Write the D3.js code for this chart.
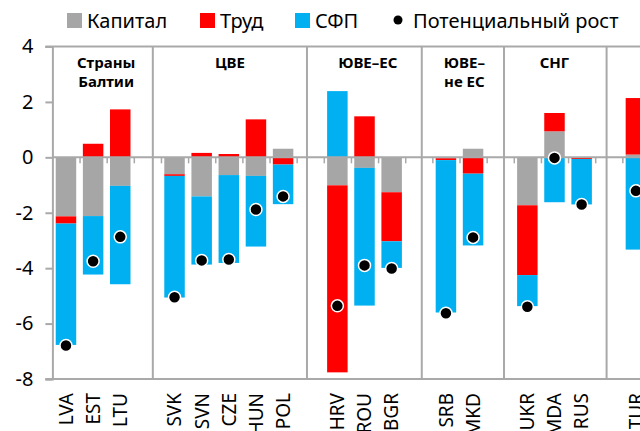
<!DOCTYPE html>
<html>
<head>
<meta charset="utf-8">
<script src="https://cdn.jsdelivr.net/npm/d3@7"></script>
<style>
  body { margin: 0; background: #fff; }
  svg { display: block; font-family: "Noto Sans", "Open Sans", sans-serif; }
</style>
</head>
<body>
<svg id="chart" width="640" height="431"></svg>
<script>
// slots along the x axis ('' = empty gap between groups)
const slots = ['LVA', 'EST', 'LTU', '', 'SVK', 'SVN', 'CZE', 'HUN', 'POL', '',
    'HRV', 'ROU', 'BGR', '', 'SRB', 'MKD', '', 'UKR', 'MDA', 'RUS', '', 'TUR', ''];

const capital = [-2.13, -2.12, -1.03, null, -0.61, -1.41, -0.64, -0.67, 0.31, null,
    -1.01, -0.38, -1.26, null, -0.03, 0.31, null, -1.73, 0.94, -0.02, null, 0.10, null];
const labour = [-0.26, 0.49, 1.73, null, -0.06, 0.16, 0.12, 1.37, -0.26, null,
    -6.75, 1.48, -1.77, null, -0.07, -0.59, null, -2.52, 0.66, -0.04, null, 2.04, null];
const tfp = [-4.38, -2.11, -3.55, null, -4.39, -2.46, -3.17, -2.55, -1.43, null,
    2.39, -4.97, -0.96, null, -5.50, -2.59, null, -1.12, -1.62, -1.64, null, -3.33, null];
const potential = [-6.79, -3.75, -2.87, null, -5.05, -3.72, -3.69, -1.88, -1.41, null,
    -5.36, -3.90, -4.01, null, -5.63, -2.89, null, -5.39, -0.02, -1.70, null, -1.21, null];

const seriesNames = ['Капитал', 'Труд', 'СФП'];
const seriesColors = ['#A6A6A6', '#FF0000', '#00B0F0'];
const dotName = 'Потенциальный рост';

const yTicks = [-8, -6, -4, -2, 0, 2, 4];

// group dividers and titles, in slot units
const dividers = [3.7, 9.38, 13.61, 16.64, 20.42];
const groups = [
    { lines: ['Страны', 'Балтии'], at: 1.98 },
    { lines: ['ЦВЕ'], at: 6.54 },
    { lines: ['ЮВЕ–ЕС'], at: 11.62 },
    { lines: ['ЮВЕ–', 'не ЕС'], at: 15.18 },
    { lines: ['СНГ'], at: 18.5 }
];

const svg = d3.select('#chart');
const axisColor = '#A9A9A9';

const x0 = 52.4, step = 27.14;
const keys = slots.map((s, i) => 'k' + i);
const xSlot = d3.scaleLinear().domain([0, slots.length]).range([x0, x0 + step * slots.length]);
const x = d3.scaleBand().domain(keys).range(xSlot.range())
    .paddingInner(0.245).paddingOuter(0.1225);
const y = d3.scaleLinear().domain([-8, 4]).range([379, 46.5]);

// stacked data
const rows = keys.map((k, i) => ({ key: k, 0: capital[i] || 0, 1: labour[i] || 0, 2: tfp[i] || 0 }));
const stacked = d3.stack().keys([0, 1, 2]).offset(d3.stackOffsetDiverging)(rows);

// frame: top and bottom lines
[4, -8].forEach(v => {
    svg.append('line')
        .attr('x1', x0 - 7).attr('x2', 640)
        .attr('y1', y(v)).attr('y2', y(v))
        .attr('stroke', axisColor).attr('stroke-width', 2);
});

// group dividers
svg.selectAll('.divider')
    .data(dividers)
    .enter()
    .append('line')
    .attr('class', 'divider')
    .attr('x1', d => xSlot(d)).attr('x2', d => xSlot(d))
    .attr('y1', y(4)).attr('y2', y(-8))
    .attr('stroke', axisColor).attr('stroke-width', 2);

// bars
svg.append('g')
    .selectAll('g')
    .data(stacked)
    .enter()
    .append('g')
    .attr('fill', (d, i) => seriesColors[i])
    .selectAll('rect')
    .data(d => d)
    .enter()
    .append('rect')
    .attr('x', d => x(d.data.key))
    .attr('width', x.bandwidth())
    .attr('y', d => y(Math.max(d[0], d[1])))
    .attr('height', d => Math.abs(y(d[0]) - y(d[1])));

// y axis
const yAxis = svg.append('g')
    .attr('transform', `translate(${x0},0)`)
    .call(d3.axisLeft(y).tickValues(yTicks).tickSize(7).tickPadding(12).tickFormat(d3.format('d')));
yAxis.select('.domain').attr('stroke', axisColor).attr('stroke-width', 2);
yAxis.selectAll('.tick line').attr('stroke', axisColor).attr('stroke-width', 2);
yAxis.selectAll('.tick text')
    .attr('font-size', '20px')
    .attr('fill', '#000')
    .attr('font-family', '"Noto Sans", sans-serif')
    .text(d => d < 0 ? '-' + Math.abs(d) : d);

// zero line with small ticks at slot boundaries
const zeroAxis = svg.append('g')
    .attr('transform', `translate(0,${y(0)})`)
    .call(d3.axisBottom(xSlot).tickValues(d3.range(1, slots.length)).tickSize(6).tickFormat(''));
zeroAxis.select('.domain').attr('stroke', axisColor).attr('stroke-width', 2)
    .attr('d', `M${x0},0H640`);
zeroAxis.selectAll('.tick line').attr('stroke', axisColor).attr('stroke-width', 1.5);

// potential growth dots
svg.selectAll('.dot')
    .data(keys.filter((k, i) => potential[i] !== null))
    .enter()
    .append('circle')
    .attr('class', 'dot')
    .attr('cx', k => x(k) + x.bandwidth() / 2)
    .attr('cy', k => y(potential[keys.indexOf(k)]))
    .attr('r', 6)
    .attr('fill', '#000')
    .attr('stroke', '#fff')
    .attr('stroke-width', 1.5);

// category labels (rotated)
svg.selectAll('.cat')
    .data(keys.filter((k, i) => slots[i] !== ''))
    .enter()
    .append('text')
    .attr('class', 'cat')
    .attr('transform', k => `translate(${x(k) + x.bandwidth() / 2},393) rotate(-90)`)
    .attr('dy', '0.36em')
    .attr('text-anchor', 'end')
    .attr('font-size', '19px')
    .text(k => slots[keys.indexOf(k)]);

// group titles
groups.forEach(g => {
    const t = svg.append('text')
        .attr('x', xSlot(g.at))
        .attr('y', 68)
        .attr('text-anchor', 'middle')
        .attr('font-size', '15px')
        .attr('font-weight', 'bold');
    g.lines.forEach((line, i) => {
        t.append('tspan')
            .attr('x', xSlot(g.at))
            .attr('dy', i === 0 ? 0 : 19)
            .text(line);
    });
});

// legend
const legendItems = [
    { name: seriesNames[0], color: seriesColors[0], x: 67 },
    { name: seriesNames[1], color: seriesColors[1], x: 200 },
    { name: seriesNames[2], color: seriesColors[2], x: 295 }
];
legendItems.forEach(item => {
    svg.append('rect')
        .attr('x', item.x).attr('y', 13)
        .attr('width', 15).attr('height', 15)
        .attr('fill', item.color);
    svg.append('text')
        .attr('x', item.x + 20).attr('y', 28)
        .attr('font-size', '20px')
        .text(item.name);
});
svg.append('circle')
    .attr('cx', 398).attr('cy', 20).attr('r', 4.5).attr('fill', '#000');
svg.append('text')
    .attr('x', 413).attr('y', 28)
    .attr('font-size', '20px')
    .text(dotName);
</script>
</body>
</html>
